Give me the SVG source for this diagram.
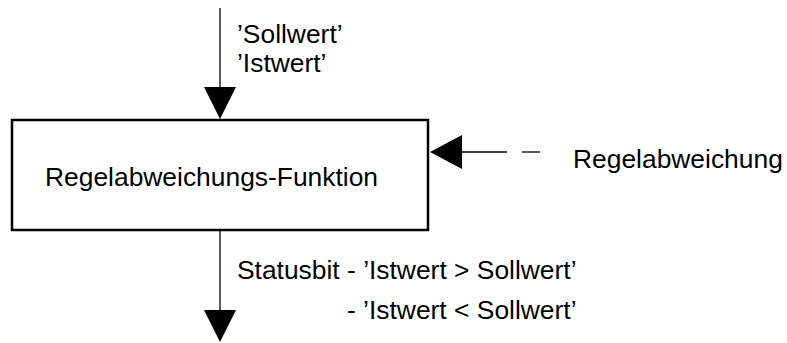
<svg xmlns="http://www.w3.org/2000/svg" width="787" height="343" viewBox="0 0 787 343">
  <style>
    .lbl { font-family: "Liberation Sans", Arial, sans-serif; font-size: 26.4px; fill: #000; }
    .ln { stroke: #000; stroke-width: 1.3; fill: none; }
    .head { fill: #000; stroke: none; }
    .box { fill: #fff; stroke: #000; stroke-width: 2.5; }
  </style>
  <rect width="787" height="343" fill="#fff"/>

  <g id="connectors">
    <!-- input from above -->
    <line class="ln" x1="220" y1="8" x2="220" y2="90"/>
    <polygon class="head" points="204,87 236,87 220,119"/>
    <!-- output downward -->
    <line class="ln" x1="220" y1="231" x2="220" y2="312"/>
    <polygon class="head" points="204,310 236,310 220,342"/>
    <!-- dashed input from the right -->
    <line class="ln" x1="460" y1="152" x2="507" y2="152"/>
    <line class="ln" x1="522" y1="152" x2="540" y2="152"/>
    <polygon class="head" points="430,152 462,135 462,169"/>
  </g>

  <g id="node-funktion">
    <rect class="box" x="12" y="120" width="416" height="110"/>
    <text class="lbl" x="45" y="186">Regelabweichungs-Funktion</text>
  </g>

  <g id="labels">
    <text class="lbl" x="237" y="43">’Sollwert’</text>
    <text class="lbl" x="237" y="72">’Istwert’</text>
    <text class="lbl" x="573" y="168">Regelabweichung</text>
    <text class="lbl" x="237" y="279">Statusbit - ’Istwert &gt; Sollwert’</text>
    <text class="lbl" x="237" y="319" dx="0"><tspan x="347">- ’Istwert &lt; Sollwert’</tspan></text>
  </g>
</svg>
